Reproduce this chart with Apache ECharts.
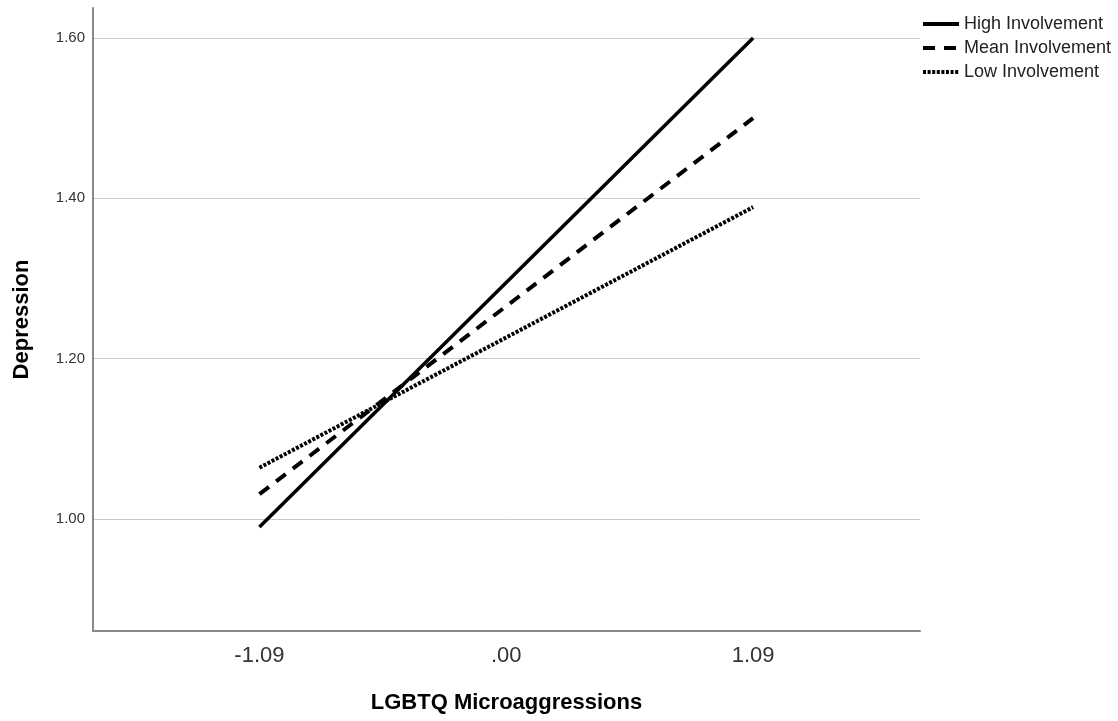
<!DOCTYPE html>
<html>
<head>
<meta charset="utf-8">
<script src="https://cdn.jsdelivr.net/npm/echarts@6/dist/echarts.min.js"></script>
<style>
  html, body { margin: 0; padding: 0; background: #fff; }
  #chart { width: 1118px; height: 721px; }
</style>
</head>
<body>
<div id="chart"></div>
<script>
// x positions (LGBTQ microaggressions, centred)
const xValues = [-1.09, 1.09];
const xTickValues = [-1.09, 0, 1.09];
const xTickLabels = ['-1.09', '.00', '1.09'];
const yTickValues = [1.0, 1.2, 1.4, 1.6];

// predicted depression at low / high microaggressions
const highInvolvement = [0.99, 1.60];
const meanInvolvement = [1.031, 1.50];
const lowInvolvement = [1.064, 1.389];

const seriesNames = ['High Involvement', 'Mean Involvement', 'Low Involvement'];

const chart = echarts.init(document.getElementById('chart'));

const pairs = (ys) => xValues.map((x, i) => [x, ys[i]]);

const mkSeries = (name, ys, type, width) => ({
  name: name,
  type: 'line',
  data: pairs(ys),
  symbol: 'none',
  silent: true,
  itemStyle: { color: '#000' },
  lineStyle: { color: '#000', width: width, type: type, cap: 'butt' }
});

chart.setOption({
  animation: false,
  textStyle: { fontFamily: 'Liberation Sans, Arial, sans-serif' },
  grid: { left: 93, right: 198, top: 8, bottom: 90 },
  legend: {
    orient: 'vertical',
    left: 921,
    top: 15,
    padding: 0,
    itemWidth: 36,
    itemHeight: 14,
    itemGap: 6,
    selectedMode: false,
    data: seriesNames,
    itemStyle: { opacity: 0 },
    lineStyle: { width: 4 },
    textStyle: { fontSize: 18, color: '#222' }
  },
  xAxis: {
    type: 'value',
    min: -1.825,
    max: 1.827,
    name: 'LGBTQ Microaggressions',
    nameLocation: 'middle',
    nameGap: 61,
    nameTextStyle: { fontSize: 22, fontWeight: 'bold', color: '#000' },
    axisLine: { onZero: false, lineStyle: { color: '#888', width: 2 } },
    axisTick: { show: false, customValues: xTickValues },
    splitLine: { show: false },
    axisLabel: {
      customValues: xTickValues,
      fontSize: 22,
      color: '#333',
      margin: 14,
      formatter: (v) => xTickLabels[xTickValues.indexOf(v)]
    }
  },
  yAxis: {
    type: 'value',
    min: 0.8603,
    max: 1.6374,
    name: 'Depression',
    nameLocation: 'middle',
    nameGap: 60,
    nameRotate: 90,
    nameTextStyle: { fontSize: 22, fontWeight: 'bold', color: '#000' },
    axisLine: { show: true, onZero: false, lineStyle: { color: '#888', width: 2 } },
    axisTick: { show: false, customValues: yTickValues },
    splitLine: { show: true, lineStyle: { color: '#c8c8c8', width: 1 } },
    axisLabel: {
      customValues: yTickValues,
      fontSize: 15,
      color: '#333',
      margin: 8,
      formatter: (v) => v.toFixed(2)
    }
  },
  series: [
    mkSeries(seriesNames[0], highInvolvement, 'solid', 3.5),
    mkSeries(seriesNames[1], meanInvolvement, [12, 9], 4),
    mkSeries(seriesNames[2], lowInvolvement, [3, 1.6], 4)
  ]
});
</script>
</body>
</html>
